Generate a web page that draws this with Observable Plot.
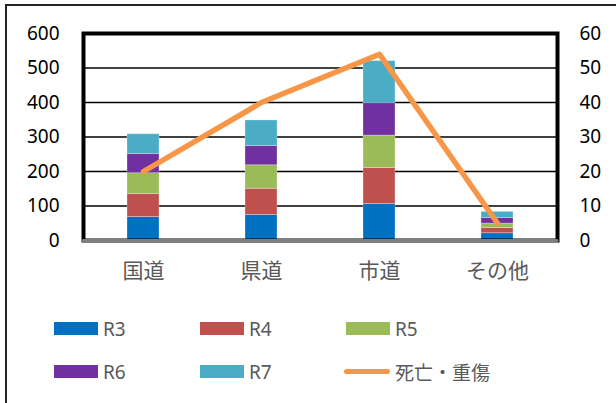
<!DOCTYPE html>
<html>
<head>
<meta charset="utf-8">
<script src="https://cdn.jsdelivr.net/npm/d3@7"></script>
<script src="https://cdn.jsdelivr.net/npm/@observablehq/plot@0.6"></script>
<style>
  html, body { margin: 0; padding: 0; background: #fff; overflow: hidden; }
  #wrap { position: relative; width: 616px; height: 403px; overflow: hidden;
          font-family: "Noto Sans", "Noto Sans CJK JP", sans-serif; }
  #border { position: absolute; left: 5px; top: 4px; width: 640px; height: 440px;
            border: 2px solid #262626; box-sizing: border-box; }
  #chart { position: absolute; left: 0; top: 0; }
  #legend { position: absolute; left: 54px; top: 307px; display: grid;
            grid-template-columns: 146px 146px 160px; grid-auto-rows: 43px; }
  .item { display: flex; align-items: center; font-size: 19px; color: #595959; }
  .sw { width: 44px; height: 13px; margin-right: 5px; }
  .ln { width: 46px; height: 5px; border-radius: 3px; margin-left: -2px; margin-right: 5px; }
</style>
</head>
<body>
<div id="wrap">
  <div id="border"></div>
  <div id="chart"></div>
  <div id="legend"></div>
</div>
<script>
const categories = ["国道", "県道", "市道", "その他"];
const seriesNames = ["R3", "R4", "R5", "R6", "R7"];
const seriesColors = ["#0070C0", "#C0504D", "#9BBB59", "#7030A0", "#4BACC6"];
const R3 = [68, 74, 106, 21];
const R4 = [67, 76, 104, 15];
const R5 = [60, 68, 94, 13];
const R6 = [56, 56, 94, 16];
const R7 = [57, 74, 122, 18];
const lineName = "死亡・重傷";
const lineColor = "#F79646";
const lineValues = [20, 40, 54, 5];
const leftTicks = [0, 100, 200, 300, 400, 500, 600];
const rightTicks = [0, 10, 20, 30, 40, 50, 60];

const seriesValues = [R3, R4, R5, R6, R7];
const rows = [];
seriesNames.forEach((s, si) => {
  categories.forEach((c, ci) => rows.push({cat: c, series: s, value: seriesValues[si][ci]}));
});
const lineRows = categories.map((c, i) => ({cat: c, v: lineValues[i]}));
const ratio = leftTicks[leftTicks.length - 1] / rightTicks[rightTicks.length - 1];

const chart = Plot.plot({
  width: 616,
  height: 290,
  marginLeft: 83,
  marginRight: 59,
  marginTop: 33,
  marginBottom: 50,
  style: {fontFamily: '"Noto Sans", "Noto Sans CJK JP", sans-serif', background: "transparent", overflow: "visible"},
  x: {domain: categories, paddingInner: 0.73, paddingOuter: 0.365, axis: null},
  y: {domain: [0, 600], axis: null},
  color: {domain: seriesNames, range: seriesColors},
  marks: [
    Plot.gridY(leftTicks, {stroke: "#000", strokeOpacity: 1, strokeWidth: 1.6}),
    Plot.barY(rows, {x: "cat", y: "value", fill: "series", stroke: "#fff", strokeOpacity: 0.35, strokeWidth: 0.8}),
    Plot.frame({stroke: "#000", strokeWidth: 4}),
    Plot.ruleY([0], {stroke: "#7f7f7f", strokeWidth: 3, strokeLinecap: "round"}),
    Plot.line(lineRows, {x: "cat", y: d => d.v * ratio, stroke: lineColor, strokeWidth: 5.5,
      strokeLinecap: "round", strokeLinejoin: "round"}),
    Plot.axisY(leftTicks, {anchor: "left", tickSize: 0, tickPadding: 24, fontSize: 19, fill: "#000", label: null}),
    Plot.axisY(leftTicks, {anchor: "right", tickSize: 0, tickPadding: 22, fontSize: 19, fill: "#000", label: null,
      tickFormat: d => String(rightTicks[leftTicks.indexOf(d)]), textAnchor: "start"}),
    Plot.axisX(categories, {anchor: "bottom", tickSize: 0, tickPadding: 23, fontSize: 21, fill: "#595959", label: null})
  ]
});
document.getElementById("chart").appendChild(chart);

const legend = document.getElementById("legend");
seriesNames.forEach((name, i) => {
  const it = document.createElement("div");
  it.className = "item";
  it.innerHTML = `<span class="sw" style="background:${seriesColors[i]}"></span><span>${name}</span>`;
  legend.appendChild(it);
});
const li = document.createElement("div");
li.className = "item";
li.innerHTML = `<span class="ln" style="background:${lineColor}"></span><span>${lineName}</span>`;
legend.appendChild(li);
</script>
</body>
</html>
